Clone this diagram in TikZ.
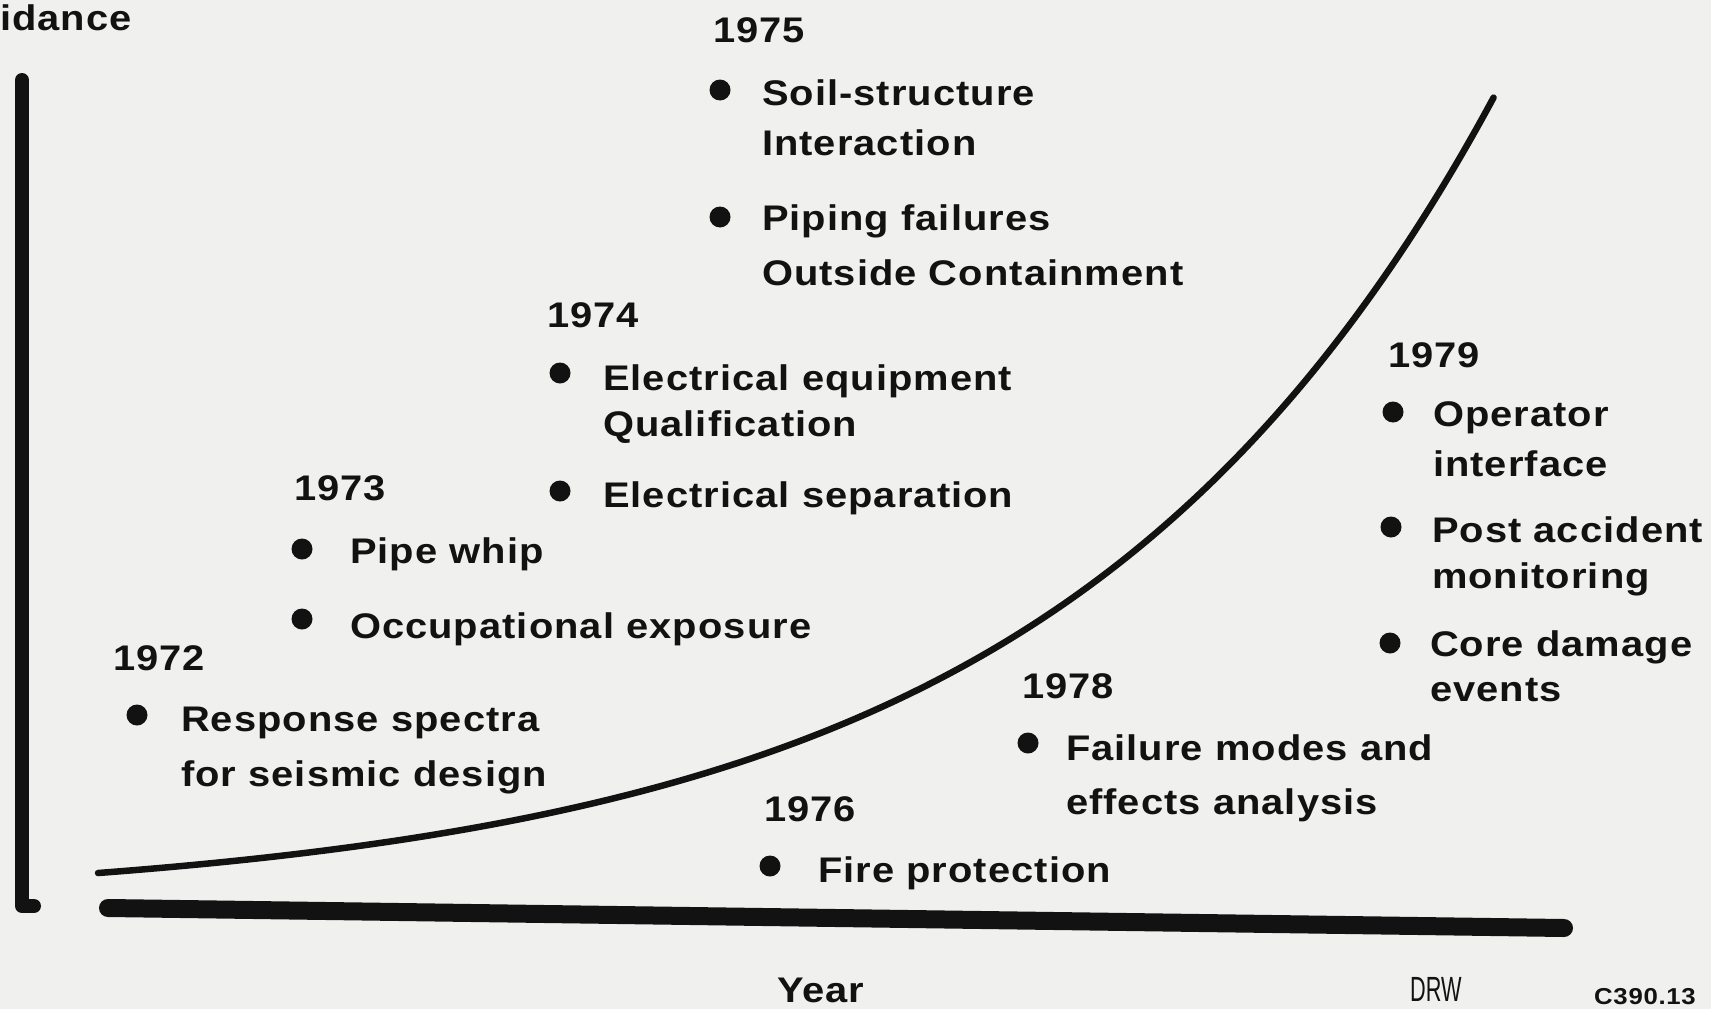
\documentclass[tikz,border=0pt]{standalone}
\usepackage{fontspec}
\newfontfamily\labfont{Liberation Sans}[FakeStretch=1.12,LetterSpace=3]
\newfontfamily\drwfont{Liberation Sans}[FakeStretch=0.62]
\definecolor{paper}{RGB}{240,240,238}
\definecolor{ink}{RGB}{18,18,18}
\tikzset{
  lbl/.style={anchor=base west, inner sep=0pt, outer sep=0pt, text=ink,
              font=\labfont\bfseries\fontsize{35.6}{40}\selectfont},
  dot/.style={circle, fill=ink, draw=none, inner sep=0pt, minimum size=21pt},
  axisline/.style={draw=ink, line cap=round, line join=round},
  growth/.style={draw=ink, line width=6.5pt, line cap=round},
}
\begin{document}
\begin{tikzpicture}[x=1pt,y=-1pt]
% sheet
\fill[paper] (0,0) rectangle (1711,1009);
\useasboundingbox (0,0) rectangle (1711,1009);

% axes
\coordinate (ytop) at (22,80);
\coordinate (ycorner) at (22,906);
\coordinate (yfoot) at (34,906);
\draw[axisline, line width=14pt] (ytop) -- (ycorner) -- (yfoot);
\coordinate (xleft) at (108,908);
\coordinate (xright) at (1564,928);
\draw[axisline, line width=18pt] (xleft) -- (xright);

% growth curve: exponential rise from (98,873) to (1495,95)
\draw[growth] plot[domain=0:1, samples=140, smooth]
  ({98+1397*\x},{873-33.064*(exp(3.2*\x)-1)});

% axis caption (truncated)
\node[lbl] (ylab) at (0,30) {idance};

% 1975
\node[lbl] (y75) at (713,42) {1975};
\node[dot] (d75a) at (720,90) {};
\node[lbl] (t75a) at (762,105) {Soil-structure};
\node[lbl] (t75b) at (762,155) {Interaction};
\node[dot] (d75b) at (720,217) {};
\node[lbl] (t75c) at (762,230) {Piping failures};
\node[lbl] (t75d) at (762,285) {Outside Containment};

% 1974
\node[lbl] (y74) at (547,327) {1974};
\node[dot] (d74a) at (560,373) {};
\node[lbl] (t74a) at (603,390) {Electrical equipment};
\node[lbl] (t74b) at (603,436) {Qualification};
\node[dot] (d74b) at (560,491) {};
\node[lbl] (t74c) at (603,507) {Electrical separation};

% 1973
\node[lbl] (y73) at (294,500) {1973};
\node[dot] (d73a) at (302,549) {};
\node[lbl] (t73a) at (350,563) {Pipe whip};
\node[dot] (d73b) at (302,619) {};
\node[lbl] (t73b) at (350,638) {Occupational exposure};

% 1972
\node[lbl] (y72) at (113,670) {1972};
\node[dot] (d72) at (137,715) {};
\node[lbl] (t72a) at (181,731) {Response spectra};
\node[lbl] (t72b) at (181,786) {for seismic design};

% 1976
\node[lbl] (y76) at (764,821) {1976};
\node[dot] (d76) at (770,866) {};
\node[lbl] (t76) at (818,882) {Fire protection};

% 1978
\node[lbl] (y78) at (1022,698) {1978};
\node[dot] (d78) at (1028,743) {};
\node[lbl] (t78a) at (1066,760) {Failure modes and};
\node[lbl] (t78b) at (1066,814) {effects analysis};

% 1979
\node[lbl] (y79) at (1388,367) {1979};
\node[dot] (d79a) at (1393,412) {};
\node[lbl] (t79a) at (1433,426) {Operator};
\node[lbl] (t79b) at (1433,476) {interface};
\node[dot] (d79b) at (1391,527) {};
\node[lbl] (t79c) at (1432,542) {Post accident};
\node[lbl] (t79d) at (1432,588) {monitoring};
\node[dot] (d79c) at (1390,643) {};
\node[lbl] (t79e) at (1430,656) {Core damage};
\node[lbl] (t79f) at (1430,701) {events};

% bottom captions
\node[lbl] (xlab) at (777,1002) {Year};
\node[anchor=base west, inner sep=0pt, text=ink,
      font=\drwfont\fontsize{35}{38}\selectfont] (drw) at (1410,1001) {DRW};
\node[anchor=base west, inner sep=0pt, text=ink,
      font=\labfont\bfseries\fontsize{23}{26}\selectfont] (ref) at (1594,1004) {C390.13};
\end{tikzpicture}
\end{document}
